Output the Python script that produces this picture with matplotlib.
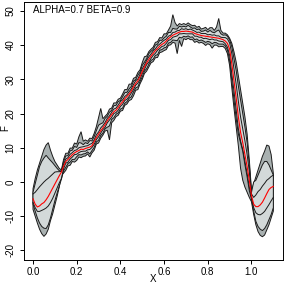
import numpy as np
import matplotlib
matplotlib.use('Agg')
import matplotlib.pyplot as plt

plt.rcParams['font.family'] = ['Liberation Sans', 'DejaVu Sans']

# x grid of the curves (edges, rising/plateau part, drop, right edge)
x_left = [0.00, 0.01, 0.02, 0.03, 0.04, 0.05, 0.06, 0.07, 0.08, 0.09, 0.10, 0.11, 0.12, 0.13]
x_mid = [round(0.14 + 0.01 * i, 2) for i in range(74)]
x_drop = [0.88, 0.89, 0.90, 0.91, 0.92, 0.93, 0.94, 0.95, 0.96, 0.97, 0.98, 0.99]
x_right = [1.00, 1.01, 1.02, 1.03, 1.04, 1.05, 1.06, 1.07, 1.08, 1.09, 1.10]
x = x_left + x_mid + x_drop + x_right

# median curve (red)
median = [-4.9, -6.5, -7.3, -7.0, -6.4, -6.0, -5.2, -4.2, -3.0, -1.8, -0.6, 0.6, 1.8, 2.9,
          4.6, 6.0, 6.6, 7.3, 8.0, 8.5, 8.9, 9.2, 9.6, 9.5,
          9.8, 10.0, 10.2, 10.6, 11.8, 13.0, 14.0, 15.0, 15.8, 16.8,
          17.9, 18.8, 19.7, 20.5, 21.0, 21.8, 22.7, 23.4, 24.3, 25.0,
          25.7, 26.6, 27.8, 28.8, 29.6, 30.8, 32.3, 33.6, 34.8, 35.8,
          36.8, 37.6, 38.4, 39.0, 39.7, 40.2, 40.6, 41.2, 41.9, 42.4,
          42.9, 43.2, 43.5, 43.8, 44.0, 44.0, 44.1, 44.0, 43.9, 43.8,
          43.4, 43.2, 43.0, 42.8, 42.7, 42.6, 42.5, 42.4, 42.3, 42.2,
          42.1, 42.0, 41.8, 41.6,
          41.2, 40.5, 38.8, 34.5, 29.5, 24.5, 19.0, 14.5, 11.5, 8.0, 4.5, 0.5,
          -4.0, -6.5, -7.2, -7.2, -6.7, -5.9, -4.7, -3.4, -2.2, -1.6, -1.3]

# band edges, read as distance from the median
inner_up = [1.4, 3.5, 5.1, 5.6, 5.7, 6.0, 5.8, 5.3, 4.7, 4.1, 3.5, 2.4, 1.2, 0.2,
            0.6, 0.7, 0.5, 0.8, 0.6, 0.7, 0.5, 0.8, 0.6, 0.8,
            0.7, 0.6, 0.8, 0.7, 0.5, 0.8, 0.6, 0.8, 0.7, 0.6,
            0.7, 0.5, 0.7, 0.8, 0.6, 0.7, 0.8, 0.6, 0.7, 0.5,
            0.7, 0.6, 0.7, 0.8, 0.5, 0.7, 0.8, 0.6, 0.7, 0.8,
            0.6, 0.7, 0.5, 0.8, 0.6, 0.7, 0.8, 0.6, 0.7, 0.5,
            0.8, 0.6, 0.7, 0.5, 0.8, 0.6, 0.7, 0.5, 0.8, 0.6,
            0.7, 0.5, 0.8, 0.6, 0.7, 0.8, 0.5, 0.7, 0.6, 0.8,
            0.6, 0.7, 0.5, 0.6,
            1.0, 1.3, 1.8, 3.0, 3.5, 4.0, 4.5, 4.5, 4.0, 4.0, 3.5, 2.5,
            0.5, 2.0, 3.4, 4.4, 4.5, 4.7, 4.3, 3.9, 3.2, 3.2, 3.3]

inner_dn = [-1.1, -1.0, -1.3, -1.6, -1.9, -2.0, -2.4, -2.8, -3.0, -3.0, -2.7, -2.4, -2.1, -1.9,
            -0.7, -0.5, -0.8, -0.6, -0.7, -0.5, -0.8, -0.6, -0.7, -0.5,
            -0.8, -0.6, -0.7, -0.5, -0.8, -0.6, -0.8, -0.7, -0.5, -0.8,
            -0.6, -0.7, -0.8, -0.5, -0.7, -0.8, -0.6, -0.7, -0.5, -0.8,
            -0.7, -0.6, -0.8, -0.5, -0.7, -0.8, -0.6, -0.7, -0.5, -0.8,
            -0.7, -0.6, -0.8, -0.5, -0.7, -0.6, -0.8, -0.7, -0.5, -0.8,
            -0.6, -0.7, -0.8, -0.5, -0.7, -0.6, -0.8, -0.7, -0.6, -0.5,
            -0.8, -0.6, -0.7, -0.5, -0.8, -0.6, -0.7, -0.8, -0.5, -0.7,
            -0.6, -0.8, -0.7, -0.6,
            -0.8, -1.1, -1.8, -3.0, -3.0, -3.5, -3.5, -2.5, -2.0, -2.0, -2.0, -2.0,
            -0.6, -1.0, -1.8, -2.3, -2.9, -3.3, -3.9, -4.2, -4.4, -3.9, -3.2]

mid_up = [1.9, 6.0, 9.3, 11.5, 12.4, 13.0, 13.0, 11.2, 9.3, 7.4, 5.4, 3.4, 1.5, 0.3,
          1.4, 1.6, 1.1, 1.8, 1.3, 1.9, 1.2, 2.3, 1.8, 1.4,
          1.7, 1.2, 1.9, 1.4, 1.5, 2.0, 2.6, 2.0, 1.5, 1.8,
          1.3, 1.6, 1.2, 1.8, 1.4, 1.7, 1.1, 1.5, 1.8, 1.2,
          1.5, 1.3, 1.7, 1.1, 1.6, 1.3, 1.8, 1.4, 1.2, 1.7,
          1.4, 1.1, 1.6, 1.3, 1.7, 1.2, 1.5, 1.4, 1.8, 1.3,
          2.0, 1.5, 1.2, 1.7, 1.3, 1.5, 1.2, 1.8, 1.4, 1.1,
          1.6, 1.3, 1.7, 1.2, 1.4, 1.8, 1.3, 1.9, 1.5, 1.4,
          2.0, 2.4, 1.5, 1.3,
          1.8, 2.1, 2.7, 5.0, 6.5, 8.0, 9.0, 9.5, 8.5, 8.0, 7.0, 4.5,
          1.0, 6.5, 7.7, 9.2, 10.2, 10.9, 10.7, 9.4, 7.2, 5.1, 3.3]

mid_dn = [-1.6, -2.0, -3.2, -5.0, -6.6, -7.5, -8.4, -8.3, -7.5, -6.2, -4.9, -3.9, -3.0, -2.1,
          -1.3, -1.7, -1.2, -1.5, -1.4, -1.9, -1.5, -1.2, -1.7, -1.3,
          -1.5, -1.2, -2.0, -1.4, -1.7, -1.3, -1.8, -1.4, -1.5, -1.2,
          -1.9, -2.4, -1.4, -1.7, -1.2, -1.6, -1.4, -1.8, -1.3, -1.5,
          -1.2, -1.7, -1.5, -1.3, -1.8, -1.4, -1.6, -1.2, -1.7, -1.4,
          -1.3, -1.7, -1.4, -1.8, -1.2, -1.5, -1.4, -1.8, -1.3, -1.6,
          -1.4, -1.8, -2.2, -1.5, -1.9, -1.4, -1.7, -1.3, -1.6, -1.4,
          -1.8, -1.4, -1.7, -1.3, -1.5, -1.8, -1.4, -1.5, -1.9, -1.4,
          -1.4, -1.7, -1.5, -1.3,
          -1.4, -1.9, -3.3, -5.0, -5.5, -6.0, -5.0, -3.0, -2.5, -3.0, -3.0, -3.0,
          -1.0, -2.0, -4.3, -5.8, -7.1, -8.3, -8.9, -9.1, -8.8, -7.9, -6.2]

outer_up = [2.9, 7.5, 10.8, 12.5, 13.9, 15.5, 16.0, 15.7, 12.3, 9.3, 6.6, 4.4, 2.2, 0.6,
            2.0, 2.4, 1.8, 2.6, 1.9, 2.9, 2.2, 4.0, 5.1, 2.4,
            2.5, 1.9, 2.6, 2.1, 2.4, 3.2, 4.8, 6.5, 2.7, 2.4,
            2.0, 2.5, 1.9, 2.6, 2.1, 2.4, 1.8, 2.3, 2.7, 2.0,
            2.9, 2.0, 2.5, 1.8, 2.4, 2.0, 2.6, 3.0, 2.0, 2.3,
            2.0, 1.8, 2.4, 2.0, 2.5, 1.9, 2.7, 2.1, 2.5, 3.2,
            6.0, 3.4, 2.1, 2.5, 2.0, 2.3, 1.9, 2.5, 2.1, 1.9,
            2.4, 2.0, 2.5, 1.9, 2.2, 2.6, 2.0, 2.7, 2.8, 2.1,
            3.2, 5.8, 2.5, 1.9,
            2.3, 2.5, 3.2, 6.0, 8.5, 10.5, 12.0, 12.5, 11.5, 11.0, 9.5, 6.0,
            1.5, 6.0, 8.7, 10.7, 12.2, 13.4, 13.7, 14.2, 12.7, 9.6, 3.8]

outer_dn = [-3.1, -3.5, -4.7, -6.8, -8.7, -9.9, -10.0, -9.6, -8.3, -7.5, -6.2, -4.9, -3.3, -0.9,
            -2.0, -2.6, -1.9, -2.4, -2.0, -2.7, -2.6, -1.9, -2.5, -2.0,
            -2.2, -1.8, -2.9, -2.1, -2.5, -1.9, -2.6, -2.2, -2.1, -1.9,
            -2.8, -6.5, -2.4, -2.5, -1.9, -2.3, -2.0, -2.5, -1.9, -2.2,
            -1.9, -2.5, -2.6, -2.0, -2.6, -2.1, -2.3, -1.9, -2.4, -2.2,
            -2.0, -2.4, -2.1, -2.6, -1.9, -2.2, -2.2, -2.5, -2.0, -2.3,
            -2.1, -2.6, -6.0, -2.4, -4.4, -2.1, -2.5, -2.0, -2.3, -2.2,
            -2.6, -2.1, -2.4, -2.0, -2.2, -2.7, -2.1, -2.3, -3.2, -2.2,
            -2.1, -2.5, -2.2, -2.0,
            -2.2, -3.0, -4.8, -7.0, -8.0, -8.5, -8.5, -10.5, -11.0, -9.5, -7.5, -5.0,
            -1.8, -3.0, -5.3, -7.3, -8.9, -10.1, -10.8, -10.6, -10.3, -8.9, -7.2]

x_ticks = [0.0, 0.2, 0.4, 0.6, 0.8, 1.0]
y_ticks = [-20, -10, 0, 10, 20, 30, 40, 50]

xa = np.array(x)
med = np.array(median)


def band(up, dn):
    px = np.concatenate([xa, xa[::-1]])
    py = np.concatenate([med + np.array(up), (med + np.array(dn))[::-1]])
    return px, py


fig = plt.figure(figsize=(2.84, 2.84), dpi=100)
ax = fig.add_axes([24/284, 24/284, 259/284, 258/284])

px, py = band(outer_up, outer_dn)
ax.fill(px, py, facecolor='#a9b1b1', edgecolor='#1a1a1a', lw=0.7)
px, py = band(mid_up, mid_dn)
ax.fill(px, py, facecolor='#d3d9d9', edgecolor='#1a1a1a', lw=0.7)
ax.plot(xa, med + np.array(inner_up), color='#1a1a1a', lw=0.7)
ax.plot(xa, med + np.array(inner_dn), color='#1a1a1a', lw=0.7)
ax.plot(xa, med, color='#ff0000', lw=0.8)

ax.text(0.0, 50.3, 'ALPHA=0.7 BETA=0.9', fontsize=7, ha='left', va='center')

ax.set_xlim(-0.0412, 1.1442)
ax.set_ylim(-22.8, 52.6)
ax.set_xticks(x_ticks)
ax.set_xticklabels(['%.1f' % t for t in x_ticks])
ax.set_yticks(y_ticks)
ax.set_yticklabels([str(t) for t in y_ticks], rotation=90, va='center')
ax.tick_params(length=3, width=0.7, labelsize=7, pad=2)
ax.tick_params(axis='y', pad=3)
for s in ax.spines.values():
    s.set_linewidth(0.7)

fig.text(153/284, 1 - 279/284, 'X', fontsize=7, ha='center', va='center')
fig.text(5/284, 1 - 128/284, 'F', fontsize=7, ha='center', va='center', rotation=90)

fig.savefig('out.png', dpi=100)
